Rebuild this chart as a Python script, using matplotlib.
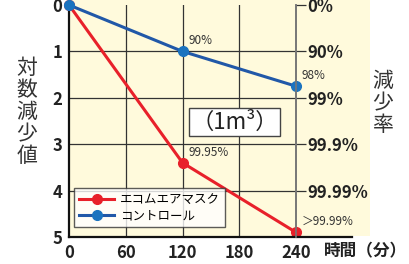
import matplotlib.pyplot as plt
from matplotlib.patches import Rectangle

plt.rcParams['font.family'] = ['Noto Sans CJK JP', 'DejaVu Sans']

minutes = [0, 120, 240]
ecom = [0, 3.4, 4.9]
control = [0, 1.0, 1.75]
ecom_labels = ["", "99.95%", "＞99.99%"]
control_labels = ["", "90%", "98%"]
x_ticks = [0, 60, 120, 180, 240]
log_ticks = [0, 1, 2, 3, 4, 5]
rate_ticks = [0, 1, 2, 3, 4]
rate_labels = ["0%", "90%", "99%", "99.9%", "99.99%"]

W, H = 409, 264
fig = plt.figure(figsize=(W / 100, H / 100), dpi=100)
cream = "#FFFADC"

# cream panel behind plot and right labels
fig.patches.append(Rectangle((69 / W, 1 - 236 / H), (370 - 69) / W, 236 / H,
                             transform=fig.transFigure, facecolor=cream,
                             edgecolor="none", zorder=-5))

ax = fig.add_axes([69 / W, 1 - 237 / H, 227 / W, 232 / H])
ax.set_facecolor(cream)
ax.set_xlim(0, 240)
ax.set_ylim(5, 0)

for v in [60, 120, 180]:
    ax.axvline(v, color="#333333", lw=0.9, zorder=1)
for v in [1, 2, 3, 4]:
    ax.axhline(v, color="#333333", lw=0.9, zorder=1)

ax.plot(minutes, ecom, color="#E8202A", lw=2.2, marker="o", ms=7,
        mfc="#E8202A", mec="#E8202A", label="エコムエアマスク", clip_on=False, zorder=4)
ax.plot(minutes, control, color="#2158A8", lw=2.2, marker="o", ms=7,
        mfc="#1B73BF", mec="#1B73BF", label="コントロール", clip_on=False, zorder=4)

for x, y, t in zip(minutes, control, control_labels):
    if t:
        ax.annotate(t, (x, y), xytext=(4, 3), textcoords="offset points",
                    fontsize=8.5, color="#333333", va="bottom")
for x, y, t in zip(minutes, ecom, ecom_labels):
    if t:
        ax.annotate(t, (x, y), xytext=(4, 3), textcoords="offset points",
                    fontsize=8.5, color="#333333", va="bottom")

ax.set_xticks(x_ticks)
ax.set_xticklabels([str(t) for t in x_ticks], fontweight="bold", fontsize=12, color="#222222")
ax.set_yticks(log_ticks)
ax.set_yticklabels([str(t) for t in log_ticks], fontweight="bold", fontsize=12, color="#222222")
ax.tick_params(axis="both", length=0, pad=5)

ax.spines["top"].set_visible(False)
ax.spines["left"].set_color("#111111")
ax.spines["left"].set_linewidth(1.6)
ax.spines["bottom"].set_visible(False)
ax.spines["right"].set_color("#777777")
ax.spines["right"].set_linewidth(1.2)
ax.plot([0, (352 - 69) / 227], [0, 0], transform=ax.transAxes, color="#111111",
        lw=1.6, clip_on=False, zorder=5)

ax2 = ax.twinx()
ax2.set_ylim(5, 0)
ax2.set_yticks(rate_ticks)
ax2.set_yticklabels(rate_labels, fontweight="bold", fontsize=12, color="#222222")
ax2.tick_params(axis="y", length=7, width=0.9, color="#333333", pad=1)
for s in ["top", "left", "bottom"]:
    ax2.spines[s].set_visible(False)
ax2.spines["right"].set_color("#777777")
ax2.spines["right"].set_linewidth(1.2)

leg = ax.legend(loc="lower left", bbox_to_anchor=(-0.005, 0.015), fontsize=9,
                frameon=True, fancybox=False, edgecolor="#333333",
                borderpad=0.4, labelspacing=0.25, handlelength=2.8, handletextpad=0.5)
leg.get_frame().set_linewidth(1.0)
leg.get_frame().set_facecolor("white")
leg.set_zorder(6)

ax.text(175, 2.52, "（1m³）", fontsize=16, ha="center", va="center", color="#222222",
        bbox=dict(boxstyle="square,pad=0.1", facecolor="white", edgecolor="#444444", lw=1.0),
        zorder=6)

fig.text(27 / W, 1 - 112 / H, "対\n数\n減\n少\n値", fontsize=15, ha="center", va="center",
         linespacing=1.0, color="#333333")
fig.text(383 / W, 1 - 103 / H, "減\n少\n率", fontsize=15, ha="center", va="center",
         linespacing=1.0, color="#333333")
fig.text(366 / W, 1 - 251 / H, "時間（分）", fontsize=12, ha="center", va="center",
         fontweight="bold", color="#222222")

fig.savefig("out.png", dpi=100)
